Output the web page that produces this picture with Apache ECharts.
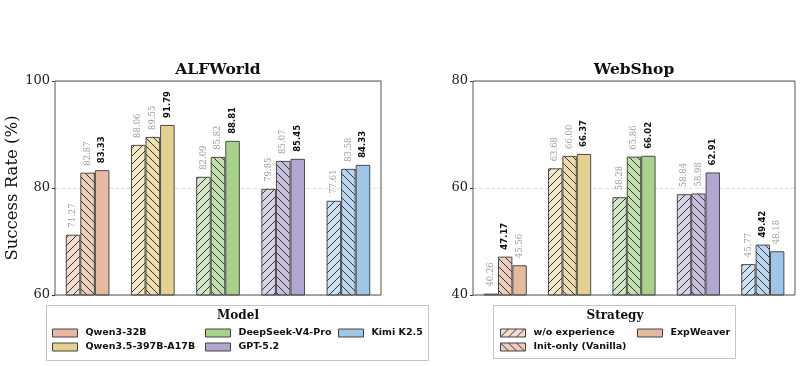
<!DOCTYPE html>
<html><head><meta charset="utf-8">
<script src="https://cdn.jsdelivr.net/npm/echarts@6/dist/echarts.min.js"></script>
<style>html,body{margin:0;padding:0;background:#fff}#c{width:805px;height:366px}</style>
</head><body><div id="c"></div>
<script>
const categories = ['Qwen3-32B','Qwen3.5-397B-A17B','DeepSeek-V4-Pro','GPT-5.2','Kimi K2.5'];
const strategies = ['w/o experience','Init-only (Vanilla)','ExpWeaver'];
const alfWo   = [71.27, 88.06, 82.09, 79.85, 77.61];
const alfInit = [82.87, 89.55, 85.82, 85.07, 83.58];
const alfExp  = [83.33, 91.79, 88.81, 85.45, 84.33];
const webWo   = [40.26, 63.68, 58.28, 58.84, 45.77];
const webInit = [47.17, 66.00, 65.86, 58.98, 49.42];
const webExp  = [45.56, 66.37, 66.02, 62.91, 48.18];
const alfTicks = {min:60, max:100, interval:20};
const webTicks = {min:40, max:80, interval:20};
const modelColors = ['#E6B9A1','#E6D08F','#A9D18E','#B2A6D0','#9FC5E8'];

function mix(hex, a){
  const r=parseInt(hex.slice(1,3),16),g=parseInt(hex.slice(3,5),16),b=parseInt(hex.slice(5,7),16);
  const f=v=>Math.round(v*a+255*(1-a));
  return 'rgb('+f(r)+','+f(g)+','+f(b)+')';
}
function hatch(bg, dir){
  const n=8, cv=document.createElement('canvas'); cv.width=n; cv.height=n;
  const ctx=cv.getContext('2d');
  ctx.fillStyle=bg; ctx.fillRect(0,0,n,n);
  ctx.strokeStyle='#333'; ctx.lineWidth=1;
  ctx.beginPath();
  if(dir==='/'){
    ctx.moveTo(-1,n+1);ctx.lineTo(n+1,-1);
    ctx.moveTo(-2,1);ctx.lineTo(1,-2);
    ctx.moveTo(n-1,n+2);ctx.lineTo(n+2,n-1);
  } else {
    ctx.moveTo(-1,-1);ctx.lineTo(n+1,n+1);
    ctx.moveTo(-2,n-1);ctx.lineTo(1,n+2);
    ctx.moveTo(n-1,-2);ctx.lineTo(n+2,1);
  }
  ctx.stroke();
  return {image:cv, repeat:'repeat'};
}
function fillFor(i, s){
  if(s===0) return hatch(mix(modelColors[i],0.5),'/');
  if(s===1) return hatch(mix(modelColors[i],0.72),'\\');
  return modelColors[i];
}

function buildSeries(g, arrs){
  return arrs.map((arr,s)=>({
    type:'bar', name:strategies[s], xAxisIndex:g, yAxisIndex:g,
    barGap:'0%', barCategoryGap:'33%',
    itemStyle:{color:fillFor(0,s), borderColor:'#4a4a4a', borderWidth:1},
    data: arr.map((v,i)=>{
      const best = Math.max(arrs[0][i],arrs[1][i],arrs[2][i])===v;
      return {value:v, itemStyle:{color:fillFor(i,s)},
        label:{show:true, position:'top', rotate:90, align:'left', verticalAlign:'middle', distance:7,
          formatter:p=>p.value.toFixed(2),
          fontSize:8.5, fontFamily: best?'DejaVu Sans':'DejaVu Serif',
          fontWeight: best?'bold':'normal', color: best?'#111':'#a0a0a0'}};
    })
  }));
}

const axisLabelStyle = {fontFamily:'DejaVu Serif', fontSize:13, color:'#222', margin:5};
function yAx(g, t, name){
  return {type:'value', gridIndex:g, min:t.min, max:t.max, interval:t.interval,
    axisLine:{show:false}, axisTick:{show:true, length:3, lineStyle:{color:'#333'}},
    axisLabel:axisLabelStyle,
    splitLine:{show:true, lineStyle:{color:'#e2e2e2', type:'dashed'}},
    name:name||'', nameLocation:'middle', nameGap:27,
    nameTextStyle:{fontFamily:'DejaVu Serif', fontSize:16.5, color:'#111'}};
}
function xAx(g){
  return {type:'category', gridIndex:g, data:categories, axisLabel:{show:false}, axisTick:{show:false},
    axisLine:{show:false}};
}

const legendText = {fontFamily:'DejaVu Sans', fontWeight:'bold', fontSize:9.5, color:'#111', lineHeight:12, padding:[0,0,0,3]};
function leg(left, data){
  return {orient:'vertical', left:left, top:327, data:data, icon:'rect', itemWidth:25, itemHeight:8,
    itemGap:2, padding:0, selectedMode:false, textStyle:legendText,
    itemStyle:{borderColor:'#444', borderWidth:1}};
}

const modelSeries = categories.map((c,i)=>({type:'bar', name:c, xAxisIndex:2, yAxisIndex:2, data:[],
  itemStyle:{color:modelColors[i], borderColor:'#444', borderWidth:1}}));

const chart = echarts.init(document.getElementById('c'), null, {renderer:'canvas'});
chart.setOption({
  animation:false,
  grid:[
    {left:55, top:81, width:326, height:214, show:true, z:10, borderColor:'#555', borderWidth:1, backgroundColor:'transparent'},
    {left:473, top:81, width:322, height:214, show:true, z:10, borderColor:'#555', borderWidth:1, backgroundColor:'transparent'},
    {left:0, top:0, width:1, height:1, show:false}
  ],
  xAxis:[xAx(0), xAx(1), {type:'category', gridIndex:2, show:false}],
  yAxis:[yAx(0, alfTicks, 'Success Rate (%)'), yAx(1, webTicks), {type:'value', gridIndex:2, show:false}],
  legend:[
    leg(52, [categories[0], categories[1]]),
    leg(205, [categories[2], categories[3]]),
    leg(338, [categories[4]]),
    leg(500, [strategies[0], strategies[1]]),
    leg(637, [strategies[2]])
  ],
  graphic:[
    {type:'rect', z:-10, shape:{x:46.5, y:305.5, width:382, height:55}, style:{fill:'#fff', stroke:'#c4c4c4', lineWidth:1}},
    {type:'rect', z:-10, shape:{x:493.5, y:305.5, width:242, height:53}, style:{fill:'#fff', stroke:'#c4c4c4', lineWidth:1}},
    {type:'text', x:238, y:316, style:{text:'Model', font:'bold 12px "DejaVu Serif"', fill:'#111', align:'center', verticalAlign:'middle'}},
    {type:'text', x:615, y:316, style:{text:'Strategy', font:'bold 12px "DejaVu Serif"', fill:'#111', align:'center', verticalAlign:'middle'}},
    {type:'text', x:218, y:70, style:{text:'ALFWorld', font:'bold 15.5px "DejaVu Serif"', fill:'#111', align:'center', verticalAlign:'middle'}},
    {type:'text', x:634, y:70, style:{text:'WebShop', font:'bold 15.5px "DejaVu Serif"', fill:'#111', align:'center', verticalAlign:'middle'}}
  ],
  series:[...buildSeries(0,[alfWo,alfInit,alfExp]), ...buildSeries(1,[webWo,webInit,webExp]), ...modelSeries]
});
</script></body></html>
